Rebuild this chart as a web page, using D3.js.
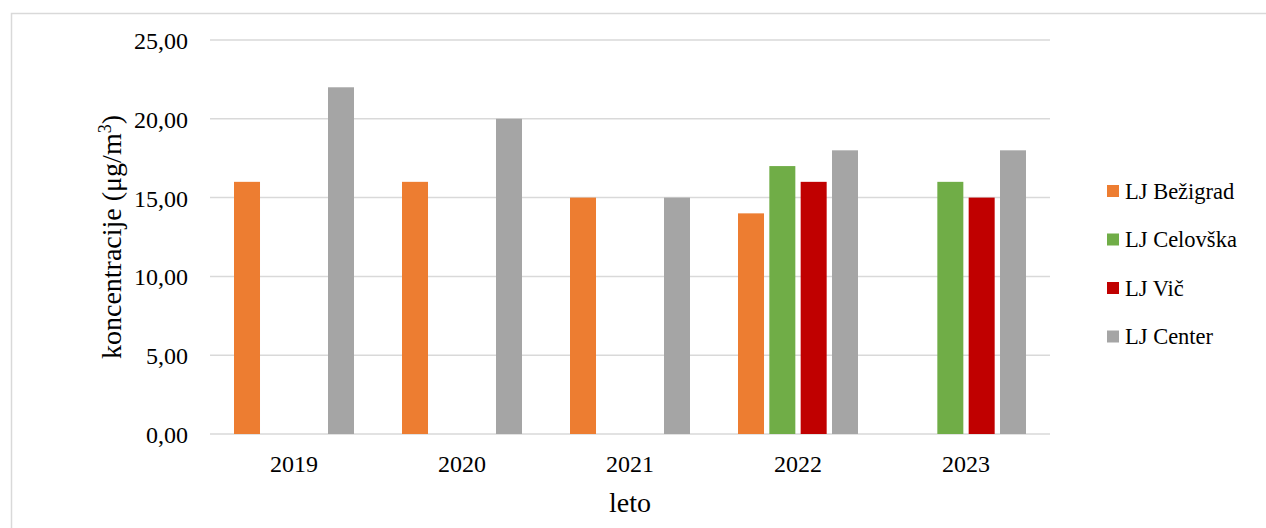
<!DOCTYPE html>
<html><head><meta charset="utf-8">
<script src="https://cdn.jsdelivr.net/npm/d3@7"></script>
<style>body{margin:0;background:#fff}svg{display:block}</style>
</head><body>
<svg id="chart" width="1266" height="528"></svg>
<script>
const years = ["2019","2020","2021","2022","2023"];
const seriesNames = ["LJ Bežigrad","LJ Celovška","LJ Vič","LJ Center"];
const bezigrad = [16, 16, 15, 14, null];
const celovska = [null, null, null, 17, 16];
const vic = [null, null, null, 16, 15];
const center = [22, 20, 15, 18, 18];
const colors = ["#ED7D31","#70AD47","#C00000","#A5A5A5"];
const yTicks = [0,5,10,15,20,25];
const yTitle = "koncentracije (μg/m";
const xTitle = "leto";

const values = [bezigrad, celovska, vic, center];
const svg = d3.select("#chart");
const font = "'Liberation Serif', serif";
const L = 210, R = 1050, T = 40, B = 434;

svg.append("rect").attr("x",11.5).attr("y",13.5).attr("width",1300).attr("height",600)
  .attr("fill","none").attr("stroke","#d9d9d9").attr("stroke-width",1.5);

const x = d3.scaleBand().domain(years).range([L,R]).paddingInner(0).paddingOuter(0);
const y = d3.scaleLinear().domain([0,25]).range([B,T]);
const groupW = 120;
const x1 = d3.scaleBand().domain(seriesNames).range([0,groupW]).paddingInner(0.17);

const grid = svg.append("g");
grid.selectAll("line").data(yTicks).join("line")
  .attr("x1",L).attr("x2",R).attr("y1",d=>y(d)).attr("y2",d=>y(d))
  .attr("stroke","#d9d9d9").attr("stroke-width",1.5);

const yAxis = svg.append("g").attr("transform",`translate(${L},0)`)
  .call(d3.axisLeft(y).tickValues(yTicks).tickSize(0).tickPadding(22).tickFormat(d=>d3.format(".2f")(d).replace(".",",")));
yAxis.select(".domain").remove();
yAxis.selectAll("text").attr("font-family",font).attr("font-size",24).attr("fill","#000").attr("dy","0.35em");

const xAxis = svg.append("g").attr("transform",`translate(0,${B})`)
  .call(d3.axisBottom(x).tickSize(0).tickPadding(21));
xAxis.select(".domain").remove();
xAxis.selectAll("text").attr("font-family",font).attr("font-size",24).attr("fill","#000");

const data = [];
years.forEach((yr,i)=>seriesNames.forEach((s,j)=>{ if(values[j][i]!=null) data.push({yr,s,v:values[j][i],c:colors[j]}); }));
svg.append("g").selectAll("rect").data(data).join("rect")
  .attr("x",d=>x(d.yr)+x.bandwidth()/2-groupW/2+x1(d.s))
  .attr("width",x1.bandwidth())
  .attr("y",d=>y(d.v)).attr("height",d=>B-y(d.v))
  .attr("fill",d=>d.c);

const yt = svg.append("text").attr("transform",`translate(121,237) rotate(-90)`)
  .attr("text-anchor","middle").attr("font-family",font).attr("font-size",28).attr("fill","#000");
yt.append("tspan").text(yTitle);
yt.append("tspan").text("3").attr("font-size",18).attr("dy",-10);
yt.append("tspan").text(")").attr("dy",10);

svg.append("text").attr("x",630).attr("y",512).attr("text-anchor","middle")
  .attr("font-family",font).attr("font-size",28).attr("fill","#000").text(xTitle);

const leg = svg.append("g").selectAll("g").data(seriesNames).join("g")
  .attr("transform",(d,i)=>`translate(1107,${191+i*48.5})`);
leg.append("rect").attr("x",0).attr("y",-6).attr("width",12).attr("height",12).attr("fill",(d,i)=>colors[i]);
leg.append("text").attr("x",18).attr("dy","0.35em").attr("font-family",font).attr("font-size",22.5).attr("fill","#000").text(d=>d);
</script>
</body></html>
